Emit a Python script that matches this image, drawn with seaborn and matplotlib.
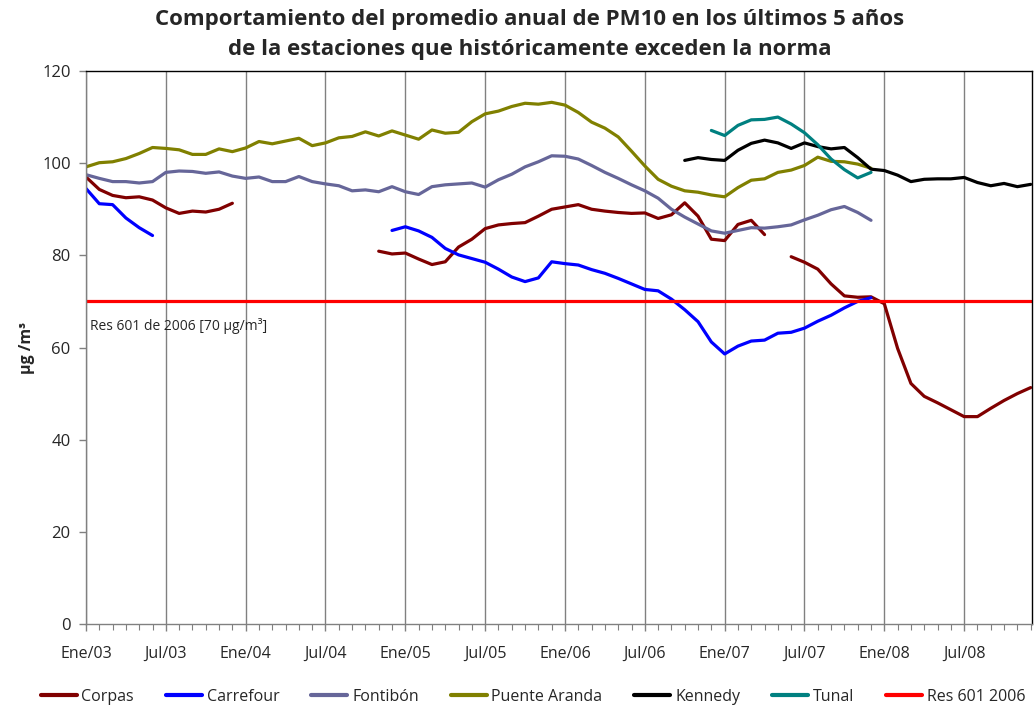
import pandas as pd
import numpy as np
import matplotlib.pyplot as plt
import seaborn as sns

# month index 0 = Ene/03 ... 71 = Dic/08
tick_labels = ['Ene/03', 'Jul/03', 'Ene/04', 'Jul/04', 'Ene/05', 'Jul/05',
               'Ene/06', 'Jul/06', 'Ene/07', 'Jul/07', 'Ene/08', 'Jul/08']
n_months = 72
norma = 70

corpas_a_start = 0
corpas_a = [97.0, 94.3, 93.0, 92.5, 92.7, 92.0, 90.3, 89.1, 89.6, 89.4, 90.0, 91.3]
corpas_b_start = 22
corpas_b = [80.9, 80.3, 80.5, 79.2, 78.0, 78.6, 81.8, 83.5, 85.8, 86.6,
            86.9, 87.1, 88.5, 90.0, 90.5, 91.0, 90.0, 89.6, 89.3, 89.1,
            89.2, 88.0, 88.8, 91.4, 88.5, 83.5, 83.2, 86.7, 87.6, 84.5]
corpas_c_start = 53
corpas_c = [79.7, 78.5, 77.0, 73.8, 71.2, 70.9, 71.0, 69.5, 59.8, 52.2,
            49.4, 48.0, 46.5, 45.0, 45.0, 46.8, 48.5, 50.0, 51.3]

carrefour_a_start = 0
carrefour_a = [94.5, 91.2, 91.0, 88.1, 86.0, 84.3]
carrefour_b_start = 23
carrefour_b = [85.4, 86.2, 85.3, 83.9, 81.5, 80.1, 79.3, 78.5, 77.0, 75.3,
               74.3, 75.1, 78.6, 78.2, 77.9, 76.9, 76.1, 75.0, 73.8, 72.6,
               72.3, 70.5, 68.2, 65.6, 61.2, 58.6, 60.3, 61.4, 61.6, 63.1,
               63.3, 64.2, 65.7, 67.0, 68.6, 70.0, 70.8]

fontibon_start = 0
fontibon = [97.5, 96.7, 96.0, 96.0, 95.7, 96.0, 98.0, 98.3, 98.2, 97.8,
            98.1, 97.2, 96.7, 97.0, 96.0, 96.0, 97.1, 96.0, 95.5, 95.1,
            94.0, 94.2, 93.8, 94.9, 93.8, 93.2, 94.9, 95.3, 95.5, 95.7,
            94.8, 96.4, 97.6, 99.2, 100.3, 101.6, 101.5, 100.9, 99.5, 98.0,
            96.7, 95.3, 94.0, 92.4, 90.0, 88.3, 86.8, 85.3, 84.8, 85.4,
            86.0, 85.9, 86.2, 86.6, 87.7, 88.7, 89.9, 90.6, 89.3, 87.6]

puente_start = 0
puente = [99.2, 100.1, 100.3, 101.0, 102.1, 103.4, 103.2, 102.9, 101.9, 101.9,
          103.1, 102.5, 103.3, 104.7, 104.2, 104.8, 105.4, 103.8, 104.4, 105.5,
          105.8, 106.8, 105.9, 107.0, 106.1, 105.2, 107.2, 106.5, 106.7, 109.0,
          110.7, 111.3, 112.3, 113.0, 112.8, 113.2, 112.6, 111.0, 108.9, 107.6,
          105.7, 102.6, 99.4, 96.5, 95.0, 94.0, 93.7, 93.1, 92.7, 94.7,
          96.3, 96.6, 98.0, 98.5, 99.5, 101.3, 100.4, 100.3, 99.8, 98.9]

kennedy_start = 45
kennedy = [100.6, 101.2, 100.8, 100.6, 102.8, 104.3, 105.0, 104.4, 103.2, 104.4,
           103.6, 103.1, 103.4, 101.2, 98.7, 98.4, 97.4, 96.0, 96.5, 96.6,
           96.6, 96.9, 95.8, 95.1, 95.6, 94.9, 95.4]

tunal_start = 47
tunal = [107.1, 106.0, 108.2, 109.4, 109.5, 110.0, 108.5, 106.6, 104.0, 100.9,
         98.6, 96.8, 98.0]

segments = [
    ('Corpas', corpas_a_start, corpas_a),
    ('Corpas', corpas_b_start, corpas_b),
    ('Corpas', corpas_c_start, corpas_c),
    ('Carrefour', carrefour_a_start, carrefour_a),
    ('Carrefour', carrefour_b_start, carrefour_b),
    ('Fontibón', fontibon_start, fontibon),
    ('Puente Aranda', puente_start, puente),
    ('Kennedy', kennedy_start, kennedy),
    ('Tunal', tunal_start, tunal),
]
colors = {'Corpas': '#800000', 'Carrefour': '#0000FF', 'Fontibón': '#666699',
          'Puente Aranda': '#808000', 'Kennedy': '#000000', 'Tunal': '#008080',
          'Res 601 2006': '#FF0000'}

sns.set_style('white')
plt.rcParams['font.family'] = ['Open Sans', 'DejaVu Sans']

fig, ax = plt.subplots(figsize=(10.35, 7.10), dpi=100)
fig.subplots_adjust(left=86/1035, right=1032/1035, top=1-71/710, bottom=1-624/710)

for name, start, vals in segments:
    months = np.arange(start, start + len(vals))
    sns.lineplot(x=months, y=vals, color=colors[name], linewidth=2.3, ax=ax)

sns.lineplot(x=np.arange(n_months), y=[norma] * n_months, color=colors['Res 601 2006'],
             linewidth=2.3, ax=ax)

ax.set_xlim(0, 71.1)
ax.set_ylim(0, 120)
ax.set_xticks(np.arange(0, n_months, 6))
ax.set_xticklabels(tick_labels, fontsize=11.5)
ax.set_xticks(np.arange(0, n_months), minor=True)
ax.set_yticks(np.arange(0, 121, 20))
ax.tick_params(axis='y', labelsize=12, direction='out', length=5, width=1, left=True,
               color='#808080', pad=6)
ax.tick_params(axis='x', which='major', direction='out', length=5, width=1, bottom=True,
               color='#808080', pad=11)
ax.tick_params(axis='x', which='minor', direction='out', length=4, width=0.8, bottom=True,
               color='#808080')
ax.grid(axis='x', which='major', color='#808080', linewidth=1)
ax.grid(axis='y', visible=False)
for s in ax.spines.values():
    s.set_visible(True)
    s.set_color('black')
    s.set_linewidth(1)
ax.spines['bottom'].set_color('#808080')
ax.spines['left'].set_color('#808080')

ax.set_xlabel('')
ax.set_ylabel('µg /m³', fontsize=11.5, fontweight='bold', labelpad=5)

ax.text(0.3, 64.7, 'Res 601 de 2006 [70 µg/m³]', fontsize=10, va='center', ha='left')

fig.text(530/1035, 1-19/710, 'Comportamiento del promedio anual de PM10 en los últimos 5 años',
         ha='center', va='center', fontsize=16, fontweight='bold')
fig.text(530/1035, 1-49/710, 'de la estaciones que históricamente exceden la norma',
         ha='center', va='center', fontsize=16, fontweight='bold')

handles = [plt.Line2D([], [], color=c, linewidth=3) for c in colors.values()]
fig.legend(handles, list(colors.keys()), loc='center', bbox_to_anchor=(533/1035, 1-697/710),
           ncol=7, frameon=False, fontsize=11.5, handlelength=2.25, columnspacing=2.0,
           handletextpad=0.3)

fig.savefig('out.png', dpi=100)
